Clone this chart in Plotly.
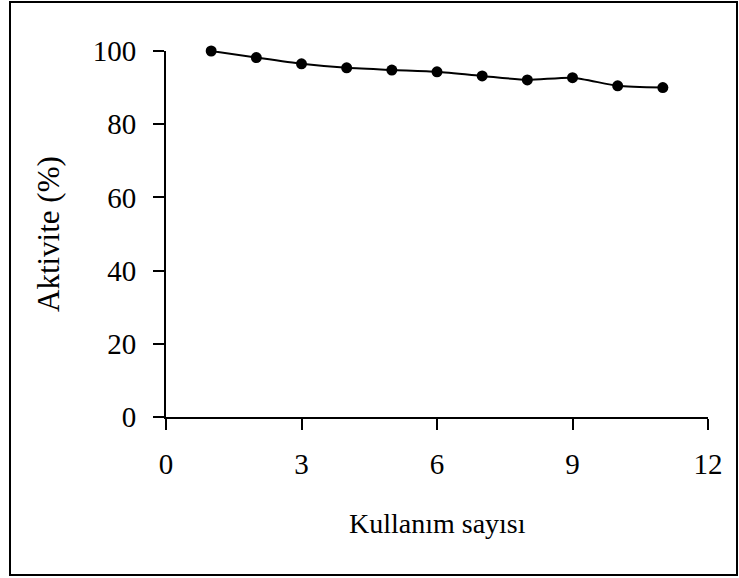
import plotly.graph_objects as go

kullanim = [1, 2, 3, 4, 5, 6, 7, 8, 9, 10, 11]
aktivite = [100.0, 98.2, 96.5, 95.4, 94.8, 94.3, 93.2, 92.1, 92.7, 90.5, 90.0]
x_ticks = [0, 3, 6, 9, 12]
y_ticks = [0, 20, 40, 60, 80, 100]

W, H = 739, 578
L, R, T, B = 166, 31, 51, 161
pw, ph = W - L - R, H - T - B

def px(x):
    return (x - L) / pw

def py(y):
    return (H - B - y) / ph

font = "Liberation Serif, Times New Roman, serif"

fig = go.Figure()
fig.add_trace(go.Scatter(
    x=kullanim, y=aktivite, mode="lines+markers",
    line=dict(color="black", width=2, shape="spline", smoothing=0.6),
    marker=dict(color="black", size=11),
    cliponaxis=False,
    showlegend=False,
))

fig.update_layout(
    width=W, height=H,
    margin=dict(l=L, r=R, t=T, b=B),
    paper_bgcolor="white", plot_bgcolor="white",
    font=dict(family=font, color="black", size=29),
    xaxis=dict(range=[0, 12], tickvals=x_ticks, ticks="outside", ticklen=11,
               tickwidth=2, tickcolor="black", showline=True, linecolor="black",
               linewidth=2, showgrid=False, zeroline=False,
               ticklabelstandoff=9, tickfont=dict(size=29)),
    yaxis=dict(range=[0, 100], tickvals=y_ticks, ticks="outside", ticklen=11,
               tickwidth=2, tickcolor="black", showline=True, linecolor="black",
               linewidth=2, showgrid=False, zeroline=False,
               ticklabelstandoff=11, tickfont=dict(size=29)),
    annotations=[
        dict(text="Kullanım sayısı", xref="paper", yref="paper",
             x=0.5, y=py(523), xanchor="center", yanchor="middle",
             showarrow=False, font=dict(size=28)),
        dict(text="Aktivite (%)", xref="paper", yref="paper",
             x=px(48), y=0.5, xanchor="center", yanchor="middle",
             textangle=-90, showarrow=False, font=dict(size=31)),
    ],
    shapes=[dict(type="rect", xref="paper", yref="paper",
                 x0=px(10), x1=px(737), y0=py(575), y1=py(2),
                 line=dict(color="black", width=2))],
)

fig.write_html("out.html")
